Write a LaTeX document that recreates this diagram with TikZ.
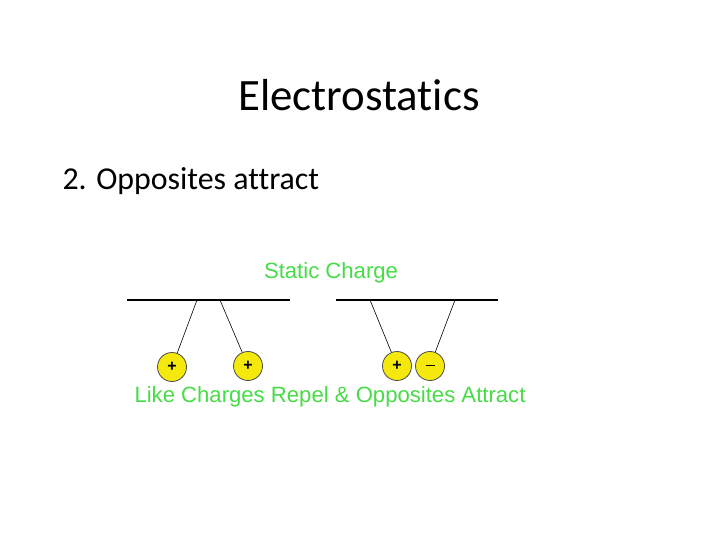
\documentclass[tikz,border=0pt]{standalone}
\usepackage{fontspec}
\setmainfont{Carlito}[Ligatures=NoCommon]
\newfontfamily\arialf{Liberation Sans}
\begin{document}
\begin{tikzpicture}[x=1bp,y=-1bp,
  bar/.style={line width=2.2bp},
  str/.style={line width=0.6bp},
  ball/.style={circle,draw=black!70,fill=yellow!95!black,line width=0.8bp,minimum size=29bp,inner sep=0pt,font=\arialf\bfseries\fontsize{16}{16}\selectfont},
  gtext/.style={font=\arialf\fontsize{22.2}{22}\selectfont,inner sep=0pt}]
\definecolor{gr}{RGB}{70,220,70}
\useasboundingbox (0,0) rectangle (720,540);
\node[font=\fontsize{45}{45}\selectfont] (title) at (359,95) {Electrostatics};
\node[font=\fontsize{32}{32}\selectfont,anchor=west] (sub) at (59,181) {2. Opposites attract};
\node[gtext,text=gr] (sc) at (331,273) {Static Charge};
\node[gtext,text=gr] (lc) at (330,397) {Like Charges Repel \& Opposites Attract};
\coordinate (b1l) at (127,300); \coordinate (b1r) at (290,300);
\coordinate (b2l) at (336,300); \coordinate (b2r) at (498,300);
\draw[bar] (b1l) -- (b1r);
\draw[bar] (b2l) -- (b2r);
\node[ball] (p1) at (172,367) {+};
\node[ball] (p2) at (248,366) {+};
\node[ball] (p3) at (397,366) {+};
\node[ball] (m1) at (430,366) {\raisebox{1bp}{\rule{9bp}{1.8bp}}};
\coordinate (t1) at (197,300); \coordinate (t2) at (220,300);
\coordinate (t3) at (370,300); \coordinate (t4) at (455,300);
\draw[str] (t1) -- (p1);
\draw[str] (t2) -- (p2);
\draw[str] (t3) -- (p3);
\draw[str] (t4) -- (m1);
\end{tikzpicture}
\end{document}
